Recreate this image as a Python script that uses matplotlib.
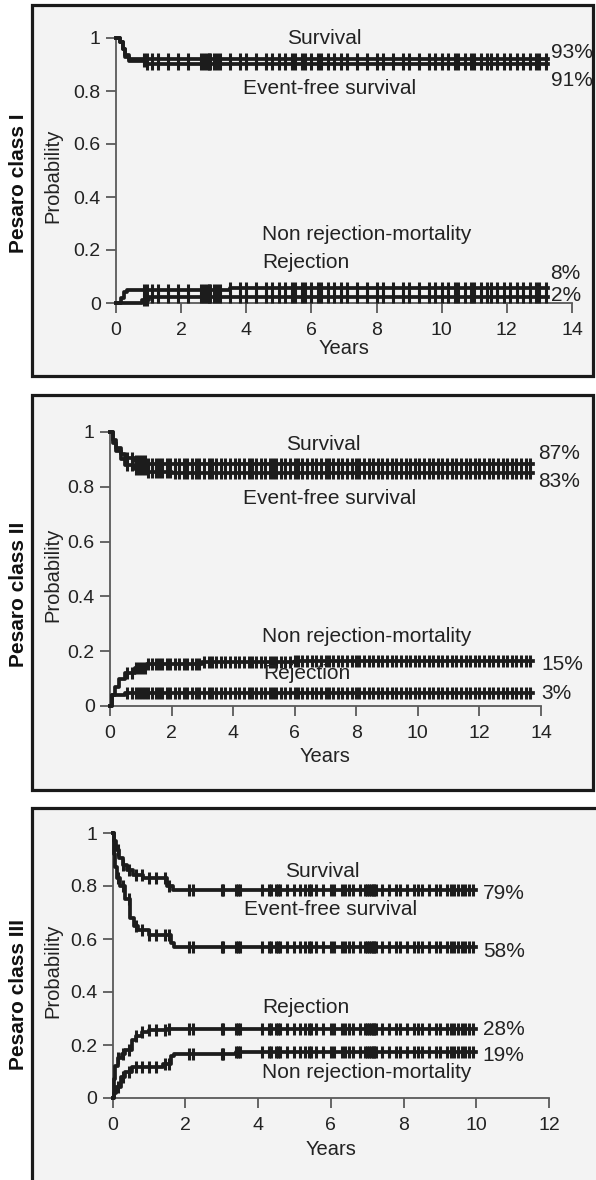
#!/usr/bin/env python
# -*- coding: utf8 -*-

'''Recreates the three Kaplan-Meier style panels (Pesaro class I, II, III)
   with survival, event-free survival, rejection and non rejection-mortality'''

import numpy as np
import matplotlib
# Force matplotlib to not use any Xwindows backend.
matplotlib.use('Agg')
import matplotlib.pyplot as plt
from matplotlib.patches import Rectangle

# ---- Pesaro class I ----
c1_surv_t = [0, 0.12, 0.2, 0.28, 0.4]
c1_surv_v = [1.0, 0.985, 0.96, 0.935, 0.92]
c1_efs_t = [0, 0.12, 0.2, 0.28, 0.4, 0.9]
c1_efs_v = [1.0, 0.985, 0.96, 0.93, 0.913, 0.903]
c1_nrm_t = [0, 0.15, 0.25, 0.35, 3.5]
c1_nrm_v = [0.0, 0.02, 0.04, 0.05, 0.058]
c1_rej_t = [0, 0.8, 1.0]
c1_rej_v = [0.0, 0.012, 0.022]
c1_end = 13.25
c1_censor = [0.85, 0.95, 1.1, 1.3, 1.6, 1.9, 2.2, 2.6, 2.7, 2.8, 2.85, 2.9, 3.0,
             3.1, 3.2, 3.5, 3.8, 4.0, 4.3, 4.6, 4.8, 5.0, 5.2, 5.4, 5.5, 5.7,
             5.8, 6.0, 6.2, 6.3, 6.5, 6.7, 6.9, 7.1, 7.4, 7.7, 8.0, 8.2, 8.5,
             8.8, 9.0, 9.3, 9.6, 9.8, 10.0, 10.2, 10.4, 10.5, 10.7, 10.9, 11.0,
             11.2, 11.4, 11.5, 11.7, 11.9, 12.1, 12.3, 12.5, 12.7, 12.9, 13.0,
             13.2]
c1_labels = ['Survival', 'Event-free survival', '93%', '91%',
             'Non rejection-mortality', 'Rejection', '8%', '2%']

# ---- Pesaro class II ----
c2_surv_t = [0, 0.1, 0.2, 0.35, 0.5, 0.8, 1.2]
c2_surv_v = [1.0, 0.97, 0.94, 0.92, 0.905, 0.895, 0.885]
c2_efs_t = [0, 0.1, 0.2, 0.35, 0.5, 0.8, 1.2, 2.0]
c2_efs_v = [1.0, 0.96, 0.93, 0.9, 0.88, 0.865, 0.855, 0.85]
c2_nrm_t = [0, 0.05, 0.15, 0.3, 0.5, 0.8, 1.2, 3.0, 6.0]
c2_nrm_v = [0.0, 0.04, 0.07, 0.1, 0.12, 0.14, 0.155, 0.16, 0.165]
c2_rej_t = [0, 0.05, 0.5]
c2_rej_v = [0.0, 0.04, 0.047]
c2_end = 13.75
c2_censor = [0.55, 0.7, 0.85, 0.95, 1.05, 1.15, 1.25, 1.35, 1.5, 1.6, 1.7, 1.85,
             1.95, 2.1, 2.25, 2.4, 2.5, 2.65, 2.8, 2.9, 3.05, 3.2, 3.3, 3.45,
             3.6, 3.75, 3.9, 4.05, 4.2, 4.35, 4.5, 4.6, 4.75, 4.9, 5.05, 5.2,
             5.3, 5.4, 5.55, 5.7, 5.85, 6.0, 6.1, 6.25, 6.4, 6.55, 6.7, 6.85,
             7.0, 7.1, 7.25, 7.4, 7.55, 7.7, 7.85, 8.0, 8.1, 8.25, 8.4, 8.55,
             8.7, 8.85, 9.0, 9.15, 9.3, 9.45, 9.6, 9.75, 9.9, 10.05, 10.2,
             10.35, 10.5, 10.65, 10.8, 10.95, 11.1, 11.25, 11.4, 11.55, 11.7,
             11.85, 12.0, 12.15, 12.3, 12.45, 12.6, 12.75, 12.9, 13.05, 13.2,
             13.35, 13.5, 13.65]
c2_labels = ['Survival', 'Event-free survival', '87%', '83%',
             'Non rejection-mortality', 'Rejection', '15%', '3%']

# ---- Pesaro class III ----
c3_surv_t = [0, 0.05, 0.1, 0.18, 0.29, 0.4, 0.56, 0.83, 1.5, 1.67]
c3_surv_v = [1.0, 0.97, 0.935, 0.905, 0.88, 0.86, 0.84, 0.83, 0.80, 0.785]
c3_efs_t = [0, 0.03, 0.07, 0.13, 0.2, 0.35, 0.49, 0.6, 0.7, 1.0, 1.6, 1.7]
c3_efs_v = [1.0, 0.92, 0.87, 0.83, 0.80, 0.75, 0.68, 0.65, 0.635, 0.615,
            0.585, 0.57]
c3_rej_t = [0, 0.03, 0.07, 0.15, 0.25, 0.35, 0.53, 0.65, 0.8, 1.0, 1.5]
c3_rej_v = [0.0, 0.07, 0.12, 0.15, 0.165, 0.18, 0.22, 0.235, 0.25, 0.258,
            0.262]
c3_nrm_t = [0, 0.05, 0.1, 0.23, 0.35, 0.53, 1.4, 1.6, 1.7, 3.4]
c3_nrm_v = [0.0, 0.02, 0.04, 0.08, 0.10, 0.117, 0.13, 0.16, 0.165, 0.172]
c3_end = 10.0
c3_censor = [0.15, 0.3, 0.45, 0.65, 0.8, 1.0, 1.2, 1.45, 1.55, 2.1, 2.2, 3.0,
             3.05, 3.4, 3.45, 3.5, 4.1, 4.3, 4.35, 4.5, 4.55, 4.6, 4.8, 5.0,
             5.15, 5.3, 5.4, 5.45, 5.6, 5.8, 6.0, 6.1, 6.3, 6.4, 6.5, 6.6,
             6.8, 6.95, 7.0, 7.05, 7.1, 7.15, 7.2, 7.25, 7.4, 7.6, 7.8, 7.9,
             8.1, 8.3, 8.4, 8.5, 8.7, 8.9, 9.0, 9.2, 9.3, 9.4, 9.5, 9.6, 9.7,
             9.8, 9.9]
c3_labels = ['Survival', 'Event-free survival', '79%', '58%',
             'Rejection', '28%', '19%', 'Non rejection-mortality']

panel_titles = ['Pesaro class I', 'Pesaro class II', 'Pesaro class III']
y_ticks = [0, 0.2, 0.4, 0.6, 0.8, 1.0]
y_ticklabels = ['0', '0.2', '0.4', '0.6', '0.8', '1']

W, H = 596, 1180
LINE = '#1c1c1c'
AXIS = '#5a5a5a'
FONT = ['Liberation Sans', 'DejaVu Sans']


def fig_rect(x0, y0, x1, y1):
    '''Convert pixel box (top-left origin) to figure fraction [l, b, w, h]'''
    return [x0 / W, 1 - y1 / H, (x1 - x0) / W, (y1 - y0) / H]


def step_value(t, v, x):
    '''Look up the value of a step curve at position x'''
    idx = np.searchsorted(t, x, side='right') - 1
    return np.asarray(v)[idx]


def draw_curve(ax, t, v, end, censor):
    '''Draw one step curve with its censor ticks'''
    t = np.asarray(t, dtype=float)
    ax.step(np.append(t, end), np.append(v, v[-1]), where='post',
            color=LINE, lw=2.7, clip_on=False, zorder=3)
    cens = np.asarray([c for c in censor if c <= end])
    ax.plot(cens, step_value(t, v, cens), ls='none', marker='|', ms=9,
            mew=2.2, color=LINE, clip_on=False, zorder=3)


def style_axes(ax, xmax, x_lab_y, y_lab_x):
    '''Apply the plain axis look of the original figure'''
    ax.set_facecolor('none')
    ax.set_xlim(0, xmax)
    ax.set_ylim(0, 1)
    ax.set_xticks(range(0, xmax + 1, 2))
    ax.set_yticks(y_ticks)
    ax.set_yticklabels(y_ticklabels)
    for side in ['top', 'right']:
        ax.spines[side].set_visible(False)
    for side in ['left', 'bottom']:
        ax.spines[side].set_color(AXIS)
        ax.spines[side].set_linewidth(1.3)
    ax.tick_params(direction='out', length=7, width=1.3, color=AXIS,
                   labelsize=14, labelcolor='#222222')
    ax.tick_params(axis='x', pad=7)
    ax.tick_params(axis='y', pad=4)
    for lab in ax.get_xticklabels() + ax.get_yticklabels():
        lab.set_family(FONT)
    ax.set_xlabel('Years', fontsize=14.5, color='#222222', family=FONT)
    ax.xaxis.set_label_coords(0.5, x_lab_y)
    ax.xaxis.label.set_va('center')
    ax.set_ylabel('Probability', fontsize=14.5, color='#222222', family=FONT)
    ax.yaxis.set_label_coords(y_lab_x, 0.48)
    ax.yaxis.label.set_va('center')


def put_text(ax, x, y, s, ha='left'):
    ax.text(x, y, s, ha=ha, va='center', fontsize=15, color='#222222',
            family=FONT, zorder=4)


def main():
    '''Build the figure panel by panel'''
    fig = plt.figure(figsize=(W / 100, H / 100), dpi=100)
    fig.patch.set_facecolor('white')

    # framed boxes around each panel
    for box in [(32, 5, 593, 376), (32, 395, 593, 790), (32, 808, 600, 1186)]:
        l, b, w, h = fig_rect(*box)
        fig.add_artist(Rectangle((l, b), w, h, transform=fig.transFigure,
                                 facecolor='#f3f3f3', edgecolor='#1a1a1a',
                                 lw=2.3, zorder=-1))

    # Panel I
    ax1 = fig.add_axes(fig_rect(116, 38, 572, 303))
    for t, v in [(c1_surv_t, c1_surv_v), (c1_efs_t, c1_efs_v),
                 (c1_nrm_t, c1_nrm_v), (c1_rej_t, c1_rej_v)]:
        draw_curve(ax1, t, v, c1_end, c1_censor)
    style_axes(ax1, 14, -0.17, -0.138)
    put_text(ax1, 6.38, 1.0, c1_labels[0], ha='center')
    put_text(ax1, 6.56, 0.81, c1_labels[1], ha='center')
    put_text(ax1, 13.34, 0.947, c1_labels[2])
    put_text(ax1, 13.34, 0.84, c1_labels[3])
    put_text(ax1, 4.48, 0.257, c1_labels[4])
    put_text(ax1, 4.48, 0.151, c1_labels[5])
    put_text(ax1, 13.34, 0.113, c1_labels[6])
    put_text(ax1, 13.34, 0.03, c1_labels[7])

    # Panel II
    ax2 = fig.add_axes(fig_rect(110, 432, 541, 706))
    for t, v in [(c2_surv_t, c2_surv_v), (c2_efs_t, c2_efs_v),
                 (c2_nrm_t, c2_nrm_v), (c2_rej_t, c2_rej_v)]:
        draw_curve(ax2, t, v, c2_end, c2_censor)
    style_axes(ax2, 14, -0.185, -0.132)
    put_text(ax2, 6.92, 0.953, c2_labels[0], ha='center')
    put_text(ax2, 7.14, 0.759, c2_labels[1], ha='center')
    put_text(ax2, 13.9, 0.923, c2_labels[2])
    put_text(ax2, 13.9, 0.818, c2_labels[3])
    put_text(ax2, 4.94, 0.252, c2_labels[4])
    put_text(ax2, 4.97, 0.12, c2_labels[5])
    put_text(ax2, 14.0, 0.15, c2_labels[6])
    put_text(ax2, 14.0, 0.047, c2_labels[7])

    # Panel III
    ax3 = fig.add_axes(fig_rect(112.5, 833, 549, 1098))
    for t, v in [(c3_surv_t, c3_surv_v), (c3_efs_t, c3_efs_v),
                 (c3_rej_t, c3_rej_v), (c3_nrm_t, c3_nrm_v)]:
        draw_curve(ax3, t, v, c3_end, c3_censor)
    style_axes(ax3, 12, -0.196, -0.136)
    put_text(ax3, 5.78, 0.853, c3_labels[0], ha='center')
    put_text(ax3, 6.0, 0.713, c3_labels[1], ha='center')
    put_text(ax3, 10.18, 0.77, c3_labels[2])
    put_text(ax3, 10.18, 0.551, c3_labels[3])
    put_text(ax3, 5.32, 0.343, c3_labels[4], ha='center')
    put_text(ax3, 10.18, 0.257, c3_labels[5])
    put_text(ax3, 10.18, 0.162, c3_labels[6])
    put_text(ax3, 7.0, 0.098, c3_labels[7], ha='center')

    # bold row titles on the far left
    for title, y_px in zip(panel_titles, [183, 594, 995]):
        fig.text(18.5 / W, 1 - y_px / H, title, rotation=90, ha='center',
                 va='center', fontsize=15, fontweight='bold', color='#111111',
                 family=FONT)

    plt.savefig('out.png', dpi=100, facecolor='white')


if __name__ == "__main__":
    main()
